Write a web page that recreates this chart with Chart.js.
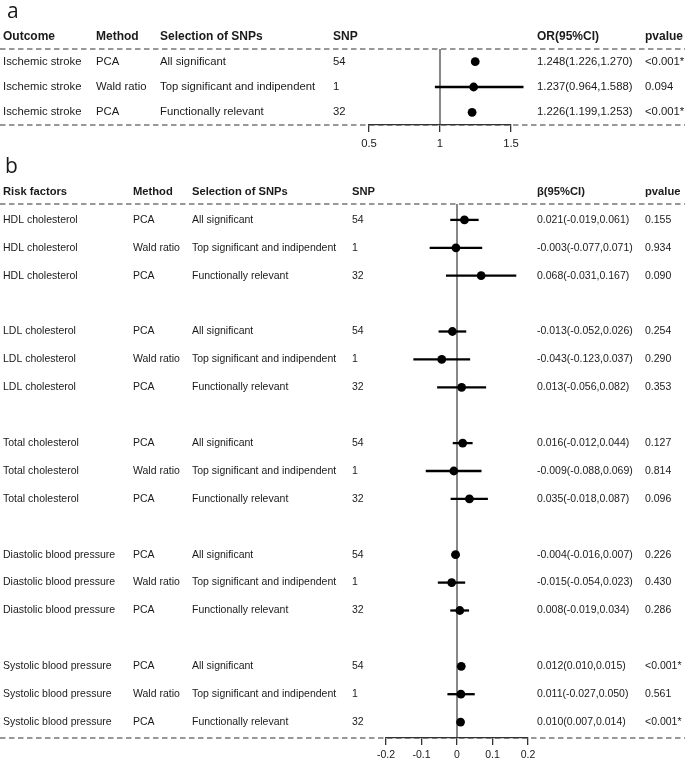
<!DOCTYPE html>
<html>
<head>
<meta charset="utf-8">
<script src="https://cdn.jsdelivr.net/npm/chart.js@4.4.1/dist/chart.umd.min.js"></script>
<style>
  html, body { margin: 0; padding: 0; background: #fff; }
  #wrap { position: relative; width: 685px; height: 761px; overflow: hidden; }
  canvas { position: absolute; left: 0; }
</style>
</head>
<body>
<div id="wrap">
  <canvas id="chartA" width="685" height="150" style="top:0px"></canvas>
  <canvas id="chartB" width="685" height="611" style="top:150px"></canvas>
</div>
<script>
// ---------- Panel a data ----------
const aHeaders = ['Outcome', 'Method', 'Selection of SNPs', 'SNP', 'OR(95%CI)', 'pvalue'];
const aOutcome = ['Ischemic stroke', 'Ischemic stroke', 'Ischemic stroke'];
const aMethod = ['PCA', 'Wald ratio', 'PCA'];
const aSelection = ['All significant', 'Top significant and indipendent', 'Functionally relevant'];
const aSNP = ['54', '1', '32'];
const aOR = [1.248, 1.237, 1.226];
const aLow = [1.226, 0.964, 1.199];
const aHigh = [1.270, 1.588, 1.253];
const aP = ['<0.001*', '0.094', '<0.001*'];
const aTicks = [0.5, 1, 1.5];
const aTickLabels = ['0.5', '1', '1.5'];

// ---------- Panel b data ----------
const bHeaders = ['Risk factors', 'Method', 'Selection of SNPs', 'SNP', 'β(95%CI)', 'pvalue'];
const bGroups = ['HDL cholesterol', 'LDL cholesterol', 'Total cholesterol', 'Diastolic blood pressure', 'Systolic blood pressure'];
const bMethods = ['PCA', 'Wald ratio', 'PCA'];
const bSelections = ['All significant', 'Top significant and indipendent', 'Functionally relevant'];
const bSNPs = ['54', '1', '32'];
const bBeta = [0.021, -0.003, 0.068, -0.013, -0.043, 0.013, 0.016, -0.009, 0.035, -0.004, -0.015, 0.008, 0.012, 0.011, 0.010];
const bLow = [-0.019, -0.077, -0.031, -0.052, -0.123, -0.056, -0.012, -0.088, -0.018, -0.016, -0.054, -0.019, 0.010, -0.027, 0.007];
const bHigh = [0.061, 0.071, 0.167, 0.026, 0.037, 0.082, 0.044, 0.069, 0.087, 0.007, 0.023, 0.034, 0.015, 0.050, 0.014];
const bP = ['0.155', '0.934', '0.090', '0.254', '0.290', '0.353', '0.127', '0.814', '0.096', '0.226', '0.430', '0.286', '<0.001*', '0.561', '<0.001*'];
const bTicks = [-0.2, -0.1, 0, 0.1, 0.2];
const bTickLabels = ['-0.2', '-0.1', '0', '0.1', '0.2'];

// ---------- build row tables ----------
const fmt = v => v.toFixed(3);
const aRows = aOR.map((v, i) => ({
  row: i, est: v, lo: aLow[i], hi: aHigh[i],
  cells: [aOutcome[i], aMethod[i], aSelection[i], aSNP[i], fmt(v) + '(' + fmt(aLow[i]) + ',' + fmt(aHigh[i]) + ')', aP[i]]
}));
const bRows = bBeta.map((v, i) => {
  const g = Math.floor(i / 3), j = i % 3;
  return {
    row: g * 4 + j, est: v, lo: bLow[i], hi: bHigh[i],
    cells: [bGroups[g], bMethods[j], bSelections[j], bSNPs[j], fmt(v) + '(' + fmt(bLow[i]) + ',' + fmt(bHigh[i]) + ')', bP[i]]
  };
});

const TEXT = '#1a1a1a';
const FONT = 'Liberation Sans, Arial, sans-serif';

function forestPlugin(opt) {
  return {
    id: 'forest_' + opt.letter,
    beforeDraw(chart) {
      const ctx = chart.ctx, ca = chart.chartArea, xs = chart.scales.x;
      ctx.save();
      ctx.strokeStyle = '#333';
      ctx.lineWidth = 1.2;
      ctx.setLineDash([5.5, 3.5]);
      [ca.top, ca.bottom].forEach(y => {
        ctx.beginPath(); ctx.moveTo(0, y); ctx.lineTo(chart.width, y); ctx.stroke();
      });
      ctx.setLineDash([]);
      const rx = xs.getPixelForValue(opt.ref);
      ctx.strokeStyle = '#555';
      ctx.lineWidth = 1.4;
      ctx.beginPath(); ctx.moveTo(rx, ca.top); ctx.lineTo(rx, ca.bottom); ctx.stroke();
      ctx.restore();
    },
    afterDraw(chart) {
      const ctx = chart.ctx, ys = chart.scales.y;
      ctx.save();
      ctx.fillStyle = TEXT;
      ctx.textAlign = 'left';
      ctx.font = '21px "Open Sans", sans-serif';
      ctx.textBaseline = 'alphabetic';
      ctx.fillText(opt.letter, opt.letterX, opt.letterY);
      ctx.textBaseline = 'middle';
      ctx.font = 'bold ' + opt.headSize + 'px ' + FONT;
      const hy = ys.getPixelForValue(-1);
      opt.headers.forEach((h, k) => ctx.fillText(h, opt.cols[k], hy));
      ctx.font = opt.textSize + 'px ' + FONT;
      opt.rows.forEach(r => {
        const y = ys.getPixelForValue(r.row);
        r.cells.forEach((c, k) => ctx.fillText(c, opt.cols[k], y));
      });
      ctx.restore();
    }
  };
}

function makeForest(id, opt) {
  const datasets = opt.rows.map(r => ({
    data: [{ x: r.lo, y: r.row }, { x: r.hi, y: r.row }],
    showLine: true, borderColor: '#000', borderWidth: 2.3, pointRadius: 0, clip: false
  }));
  datasets.push({
    data: opt.rows.map(r => ({ x: r.est, y: r.row })),
    pointRadius: 4.4, pointBackgroundColor: '#000', pointBorderWidth: 0, clip: false
  });
  return new Chart(document.getElementById(id), {
    type: 'scatter',
    data: { datasets },
    options: {
      responsive: false, animation: false, devicePixelRatio: 1,
      layout: { padding: opt.padding },
      plugins: { legend: { display: false }, tooltip: { enabled: false } },
      scales: {
        x: {
          type: 'linear', min: opt.ticks[0], max: opt.ticks[opt.ticks.length - 1],
          afterBuildTicks: s => { s.ticks = opt.ticks.map(v => ({ value: v })); },
          afterFit: s => { s.height = opt.axisH; },
          ticks: {
            callback: (v, i) => opt.tickLabels[i], color: TEXT, padding: opt.tickPad,
            autoSkip: false, maxRotation: 0, font: { family: FONT, size: opt.textSize }
          },
          grid: { drawOnChartArea: false, drawTicks: true, tickLength: 7, color: '#333', lineWidth: 1.3 },
          border: { display: true, color: '#333', width: 1.3 }
        },
        y: { type: 'linear', display: false, reverse: true, min: opt.yMin, max: opt.yMax }
      }
    },
    plugins: [forestPlugin(opt)]
  });
}

makeForest('chartA', {
  letter: 'a', letterX: 7, letterY: 18, ref: 1,
  headers: aHeaders, rows: aRows, cols: [3, 96, 160, 333, 537, 645],
  ticks: aTicks, tickLabels: aTickLabels, tickPad: 5, headSize: 12, textSize: 11.3,
  padding: { left: 369, right: 174, top: 49, bottom: 0 }, axisH: 25,
  yMin: -0.5, yMax: 2.5
});

makeForest('chartB', {
  letter: 'b', letterX: 5, letterY: 23, ref: 0,
  headers: bHeaders, rows: bRows, cols: [3, 133, 192, 352, 537, 645],
  ticks: bTicks, tickLabels: bTickLabels, tickPad: 4, headSize: 11.2, textSize: 10.5,
  padding: { left: 386, right: 157, top: 54, bottom: 0 }, axisH: 23,
  yMin: -0.57, yMax: 18.57
});
</script>
</body>
</html>
